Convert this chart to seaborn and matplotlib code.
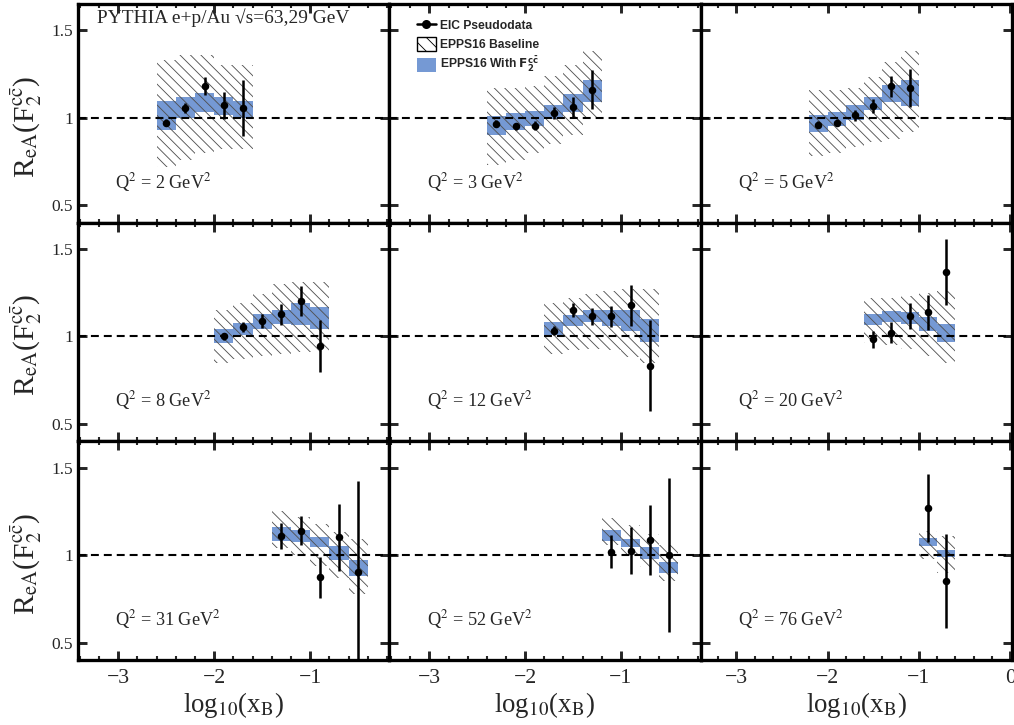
import matplotlib
matplotlib.use("Agg")
import matplotlib.pyplot as plt
import seaborn as sns
from matplotlib.patches import Patch
from matplotlib.lines import Line2D
from matplotlib.ticker import MultipleLocator, FixedLocator, FuncFormatter
from matplotlib.font_manager import FontProperties

# ---------------- data ----------------
q2_values = [2, 3, 5, 8, 12, 20, 31, 52, 76]

x_bins = [
    [-2.5, -2.3, -2.1, -1.9, -1.7],
    [-2.3, -2.1, -1.9, -1.7, -1.5, -1.3],
    [-2.1, -1.9, -1.7, -1.5, -1.3, -1.1],
    [-1.9, -1.7, -1.5, -1.3, -1.1, -0.9],
    [-1.7, -1.5, -1.3, -1.1, -0.9, -0.7],
    [-1.5, -1.3, -1.1, -0.9, -0.7],
    [-1.3, -1.1, -0.9, -0.7, -0.5],
    [-1.1, -0.9, -0.7, -0.5],
    [-0.9, -0.7],
]

pseudo_r = [
    [0.97, 1.055, 1.18, 1.07, 1.055],
    [0.965, 0.95, 0.955, 1.025, 1.06, 1.16],
    [0.96, 0.97, 1.013, 1.065, 1.18, 1.17],
    [1.0, 1.055, 1.09, 1.127, 1.203, 0.945],
    [1.032, 1.149, 1.114, 1.114, 1.177, 0.832],
    [0.983, 1.021, 1.118, 1.137, 1.369],
    [1.11, 1.139, 0.872, 1.101, 0.903],
    [1.019, 1.025, 1.087, 1.0],
    [1.269, 0.853],
]

pseudo_err = [
    [0.02, 0.03, 0.05, 0.075, 0.16],
    [0.02, 0.02, 0.025, 0.035, 0.06, 0.11],
    [0.02, 0.02, 0.03, 0.04, 0.06, 0.11],
    [0.02, 0.03, 0.04, 0.06, 0.085, 0.15],
    [0.025, 0.04, 0.05, 0.06, 0.118, 0.26],
    [0.05, 0.06, 0.075, 0.10, 0.19],
    [0.073, 0.084, 0.115, 0.19, 0.52],
    [0.095, 0.133, 0.2, 0.44],
    [0.195, 0.27],
]

with_lo = [
    [0.93, 1.0, 1.035, 1.015, 1.0],
    [0.90, 0.927, 0.95, 0.994, 1.032, 1.089],
    [0.918, 0.95, 0.985, 1.042, 1.089, 1.065],
    [0.963, 1.007, 1.04, 1.07, 1.065, 1.04],
    [1.007, 1.059, 1.083, 1.06, 1.03, 0.969],
    [1.065, 1.083, 1.07, 1.03, 0.969],
    [1.083, 1.072, 1.046, 0.973, 0.878],
    [1.083, 1.046, 0.977, 0.897],
    [1.049, 0.986],
]
with_hi = [
    [1.093, 1.118, 1.14, 1.118, 1.095],
    [1.011, 1.026, 1.04, 1.07, 1.137, 1.213],
    [1.013, 1.032, 1.07, 1.118, 1.185, 1.213],
    [1.042, 1.078, 1.127, 1.15, 1.189, 1.169],
    [1.082, 1.122, 1.15, 1.15, 1.15, 1.097],
    [1.126, 1.146, 1.14, 1.108, 1.07],
    [1.158, 1.145, 1.103, 1.049, 0.973],
    [1.141, 1.093, 1.046, 0.96],
    [1.095, 1.03],
]

base_lo = [
    [0.72, 0.76, 0.80, 0.82, 0.82],
    [0.73, 0.76, 0.80, 0.85, 0.90, 1.00],
    [0.78, 0.80, 0.83, 0.86, 0.88, 0.92],
    [0.85, 0.87, 0.89, 0.90, 0.91, 0.91],
    [0.90, 0.92, 0.93, 0.92, 0.88, 0.85],
    [0.96, 0.95, 0.93, 0.89, 0.85],
    [1.04, 1.00, 0.94, 0.87, 0.78],
    [1.06, 1.00, 0.93, 0.85],
    [0.98, 0.90],
]
base_hi = [
    [1.33, 1.36, 1.36, 1.30, 1.30],
    [1.17, 1.17, 1.18, 1.24, 1.30, 1.38],
    [1.16, 1.16, 1.17, 1.23, 1.32, 1.38],
    [1.15, 1.19, 1.24, 1.30, 1.31, 1.31],
    [1.19, 1.22, 1.24, 1.26, 1.27, 1.27],
    [1.22, 1.22, 1.23, 1.25, 1.26],
    [1.25, 1.22, 1.18, 1.13, 1.09],
    [1.21, 1.17, 1.12, 1.06],
    [1.14, 1.11],
]

y_ticks = [0.5, 1.0, 1.5]
x_ticks = [-3, -2, -1, 0]

# ---------------- style ----------------
sns.set_theme(style="ticks")
plt.rcParams["font.family"] = ["Liberation Serif", "DejaVu Serif"]
plt.rcParams["mathtext.fontset"] = "stix"
plt.rcParams["hatch.linewidth"] = 0.5
plt.rcParams["axes.unicode_minus"] = True

BLUE = "#7599d4"
HATCH_COLOR = "#505050"
BIN_W = 0.2

fig, axes = plt.subplots(3, 3, figsize=(8.12, 5.8), dpi=125)
fig.subplots_adjust(left=78 / 1015, right=1012 / 1015,
                    bottom=1 - 660 / 725, top=1 - 4 / 725,
                    wspace=0, hspace=0)

col_xlims = [(-3.417, -0.177), (-3.418, -0.168), (-3.39, 0.02)]


def xfmt(v, p):
    if abs(v) < 1e-9:
        return "0"
    return ("\u2212%d" % abs(round(v))) if v < 0 else "%d" % round(v)


for i, q2 in enumerate(q2_values):
    row, col = divmod(i, 3)
    ax = axes[row][col]
    xs = x_bins[i]

    # EPPS16 with F2cc band (blue)
    ax.bar(xs, [h - l for h, l in zip(with_hi[i], with_lo[i])], bottom=with_lo[i],
           width=BIN_W, color=BLUE, linewidth=0, zorder=1)
    # EPPS16 baseline (hatched)
    ax.bar(xs, [h - l for h, l in zip(base_hi[i], base_lo[i])], bottom=base_lo[i],
           width=BIN_W, facecolor="none", edgecolor=HATCH_COLOR, linewidth=0,
           hatch="\\\\\\\\", zorder=2)

    ax.axhline(1.0, color="black", lw=1.2, dashes=(3.8, 2.4), zorder=3)

    ax.errorbar(xs, pseudo_r[i], yerr=pseudo_err[i], fmt="none", ecolor="black",
                elinewidth=1.45, capsize=0, zorder=4)
    sns.scatterplot(x=xs, y=pseudo_r[i], ax=ax, color="black", s=19,
                    linewidth=0, zorder=5, legend=False)

    ax.set_xlim(*col_xlims[col])
    ax.set_ylim(0.4, 1.65)

    ax.xaxis.set_major_locator(FixedLocator(x_ticks))
    ax.xaxis.set_minor_locator(MultipleLocator(0.2))
    ax.yaxis.set_major_locator(FixedLocator(y_ticks))
    ax.yaxis.set_minor_locator(FixedLocator([]))
    ax.xaxis.set_major_formatter(FuncFormatter(xfmt))
    ax.yaxis.set_major_formatter(FuncFormatter(lambda v, p: "%g" % v))

    ax.tick_params(which="both", direction="in", top=True, right=True,
                   bottom=True, left=True)
    ax.tick_params(which="major", length=5.2, width=1.7)
    ax.tick_params(which="minor", length=2.5, width=1.2)
    ax.tick_params(axis="y", which="major", labelsize=10, pad=3)
    ax.tick_params(axis="x", which="major", labelsize=12.5, pad=5)
    ax.tick_params(labelbottom=(row == 2), labelleft=(col == 0))

    for sp in ax.spines.values():
        sp.set_linewidth(1.9)
        sp.set_color("black")

    ax.set_xlabel("")
    ax.set_ylabel("")

    ax.text(0.12, 0.185, "Q$^2$ = %d GeV$^2$" % q2,
            transform=ax.transAxes, fontsize=10.5, va="center", ha="left")

    if col == 0:
        ax.set_ylabel(r"R$_{\mathrm{eA}}$(F$_2^{\mathrm{c\bar{c}}}$)", fontsize=17)
        ax.yaxis.set_label_coords(-0.11, 0.44)
    if row == 2:
        ax.set_xlabel(r"log$_{10}$(x$_{\mathrm{B}}$)", fontsize=15.5)
        ax.xaxis.set_label_coords(0.5, -0.135)

axes[0][0].text(0.06, 0.936, "PYTHIA e+p/Au \u221as=63,29 GeV",
                transform=axes[0][0].transAxes, fontsize=11.2, va="center")

handles = [
    Line2D([], [], color="black", marker="o", markersize=4.2, lw=1.45),
    Patch(facecolor="white", edgecolor="black", hatch="\\\\\\", lw=0.8),
    Patch(facecolor=BLUE, edgecolor="none"),
]
labels = ["EIC Pseudodata", "EPPS16 Baseline", r"EPPS16 With $\mathbf{F_2^{c\bar{c}}}$"]
leg_font = FontProperties(family="Liberation Sans", weight="bold", size=7,
                          math_fontfamily="dejavusans")
axes[0][1].legend(handles, labels, loc="upper left", bbox_to_anchor=(0.09, 0.935),
                  frameon=False, prop=leg_font, handlelength=1.5, handleheight=1.4,
                  handletextpad=0.35, labelspacing=0.35, borderpad=0, borderaxespad=0)

fig.savefig("out.png", dpi=125)
